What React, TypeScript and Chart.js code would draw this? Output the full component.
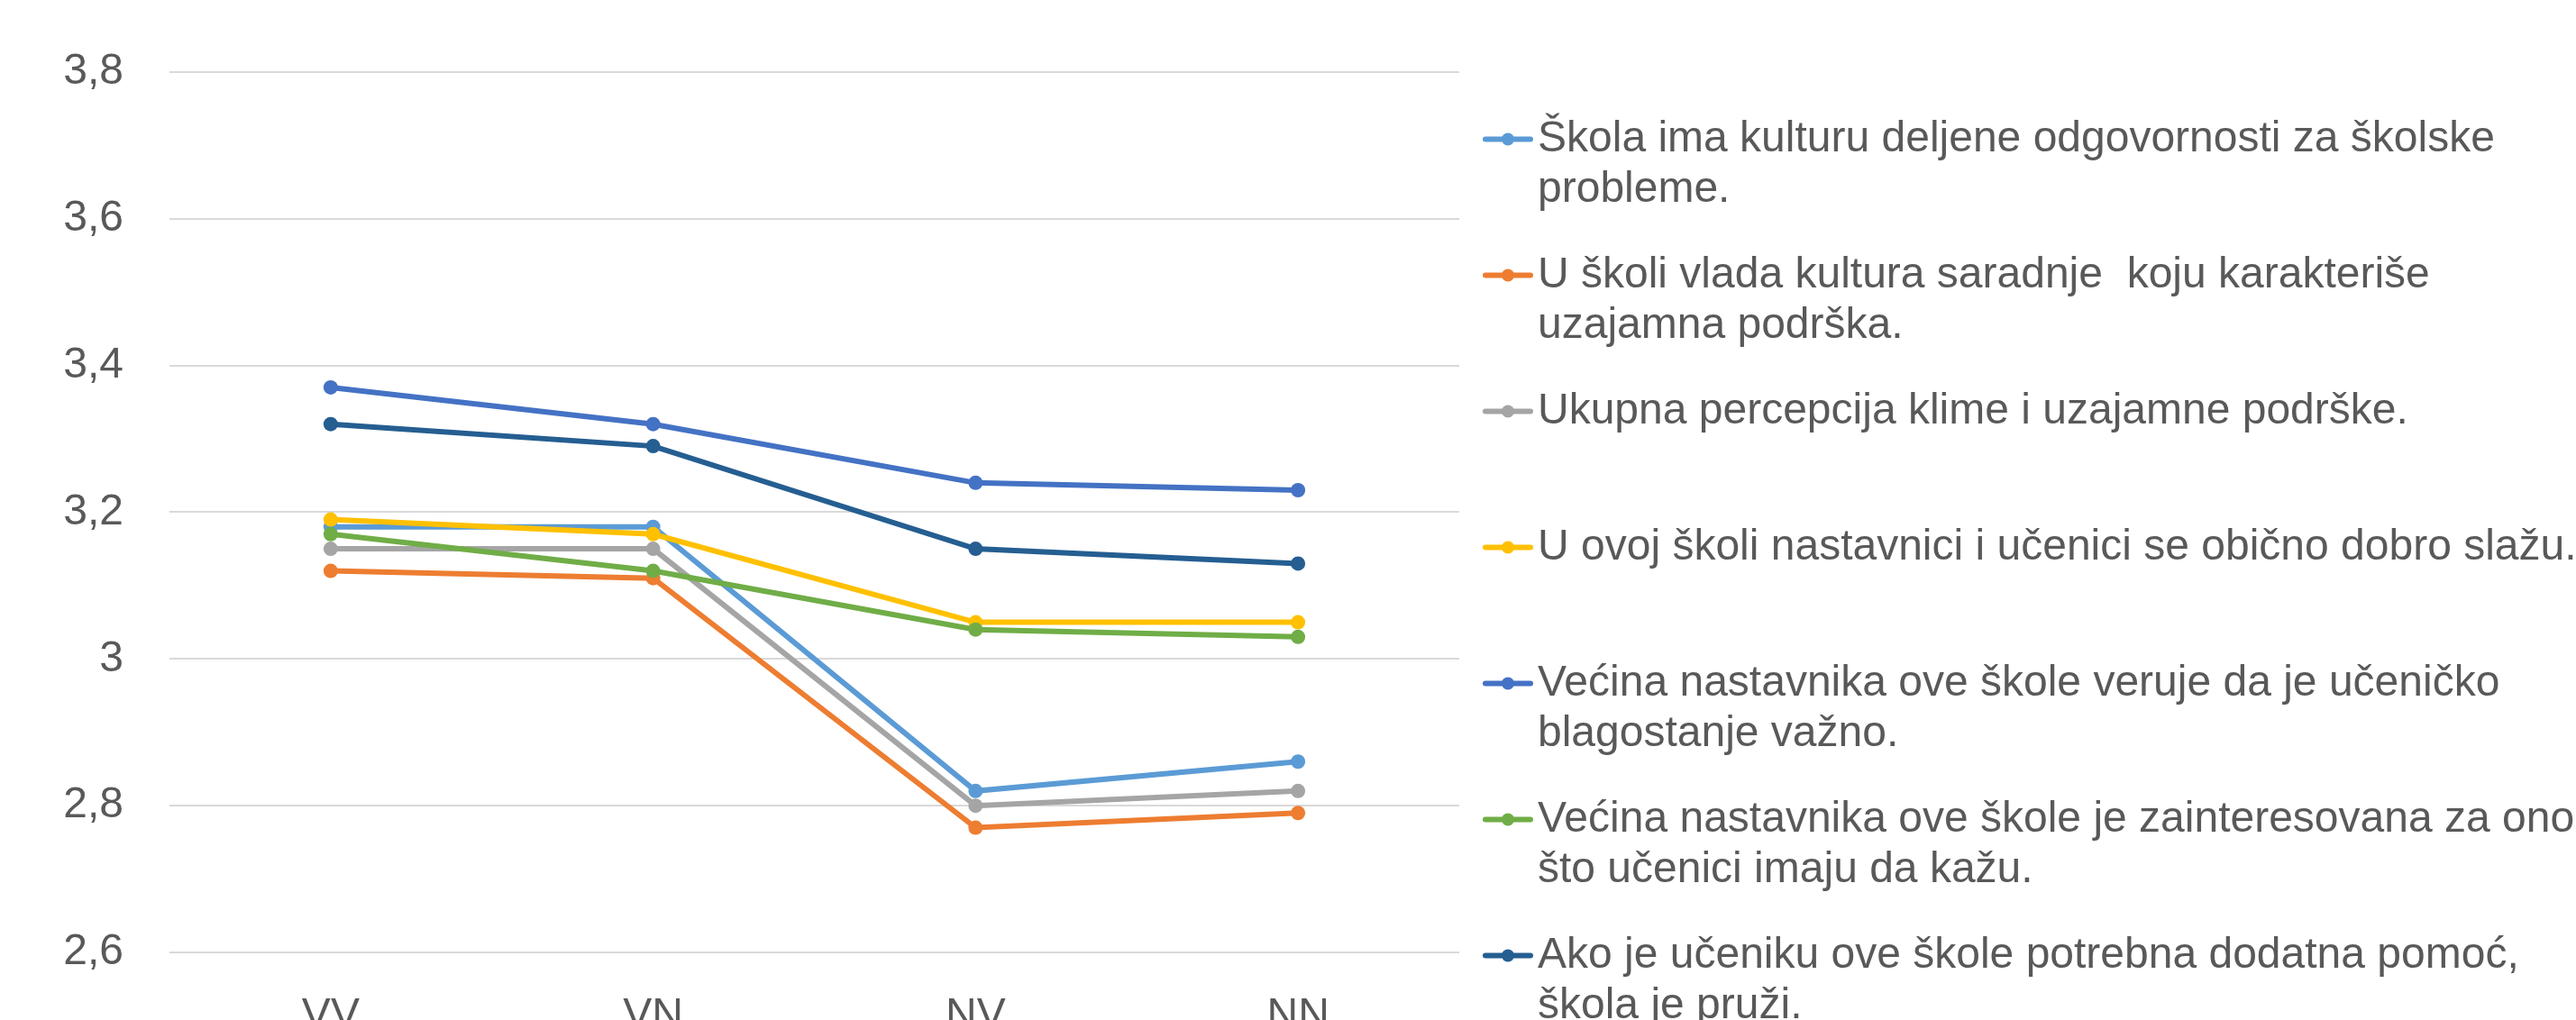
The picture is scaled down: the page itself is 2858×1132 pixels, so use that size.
import React, { useEffect, useRef } from "react";
import { Chart, registerables } from "chart.js";

Chart.register(...registerables);

// ---- data ----
const categories = ["VV", "VN", "NV", "NN"];

const seriesNames = [
  "Škola ima kulturu deljene odgovornosti za školske\nprobleme.",
  "U školi vlada kultura saradnje  koju karakteriše\nuzajamna podrška.",
  "Ukupna percepcija klime i uzajamne podrške.",
  "U ovoj školi nastavnici i učenici se obično dobro slažu.",
  "Većina nastavnika ove škole veruje da je učeničko\nblagostanje važno.",
  "Većina nastavnika ove škole je zainteresovana za ono\nšto učenici imaju da kažu.",
  "Ako je učeniku ove škole potrebna dodatna pomoć,\nškola je pruži.",
];

const seriesColors = ["#5B9BD5", "#ED7D31", "#A5A5A5", "#FFC000", "#4472C4", "#70AD47", "#255E91"];

const sharedResponsibility = [3.18, 3.18, 2.82, 2.86];
const mutualSupport = [3.12, 3.11, 2.77, 2.79];
const overallPerception = [3.15, 3.15, 2.8, 2.82];
const getAlongWell = [3.19, 3.17, 3.05, 3.05];
const wellbeingImportant = [3.37, 3.32, 3.24, 3.23];
const interestedInStudents = [3.17, 3.12, 3.04, 3.03];
const extraHelp = [3.32, 3.29, 3.15, 3.13];

const seriesValues = [
  sharedResponsibility,
  mutualSupport,
  overallPerception,
  getAlongWell,
  wellbeingImportant,
  interestedInStudents,
  extraHelp,
];

const yMin = 2.6;
const yMax = 3.8;
const yStep = 0.2;

// ---- layout / style ----
const W = 2858;
const H = 1200;
const FONT = '"Liberation Sans", Arial, sans-serif';
const TEXT_COLOR = "#595959";

const LEGEND_LINE_X0 = 1645;
const LEGEND_LINE_X1 = 1701;
const LEGEND_TEXT_X = 1706;
const LEGEND_TOP = 154.5;
const LEGEND_STEP = 151;
const LEGEND_LINE_H = 56;

const sideLegend = {
  id: "sideLegend",
  afterDraw(chart: any) {
    const ctx = chart.ctx;
    ctx.save();
    ctx.font = `48px ${FONT}`;
    ctx.textBaseline = "middle";
    ctx.textAlign = "left";
    chart.data.datasets.forEach((ds: any, i: number) => {
      const y = LEGEND_TOP + i * LEGEND_STEP;
      ctx.strokeStyle = ds.borderColor;
      ctx.lineWidth = 6;
      ctx.lineCap = "round";
      ctx.beginPath();
      ctx.moveTo(LEGEND_LINE_X0 + 3, y);
      ctx.lineTo(LEGEND_LINE_X1 - 3, y);
      ctx.stroke();
      ctx.fillStyle = ds.borderColor;
      ctx.beginPath();
      ctx.arc((LEGEND_LINE_X0 + LEGEND_LINE_X1) / 2, y, 7, 0, Math.PI * 2);
      ctx.fill();
      ctx.fillStyle = TEXT_COLOR;
      String(ds.label)
        .split("\n")
        .forEach((t: string, j: number) => ctx.fillText(t, LEGEND_TEXT_X, y + j * LEGEND_LINE_H));
    });
    ctx.restore();
  },
};

export default function App() {
  const ref = useRef<HTMLCanvasElement | null>(null);

  useEffect(() => {
    if (!ref.current) return;
    const chart = new Chart(ref.current, {
      type: "line",
      data: {
        labels: categories,
        datasets: seriesNames.map((name, i) => ({
          label: name,
          data: seriesValues[i],
          borderColor: seriesColors[i],
          backgroundColor: seriesColors[i],
          borderWidth: 6,
          pointRadius: 8,
          pointBorderWidth: 0,
          pointBackgroundColor: seriesColors[i],
          tension: 0,
          fill: false,
          order: -i,
        })),
      },
      options: {
        responsive: false,
        maintainAspectRatio: false,
        animation: false,
        devicePixelRatio: 1,
        layout: { padding: { top: 75, right: W - 1619, left: 0, bottom: 0 } },
        plugins: {
          legend: { display: false },
          tooltip: { enabled: false },
        },
        scales: {
          x: {
            type: "category",
            offset: true,
            grid: { display: false, drawTicks: false },
            border: { display: false },
            ticks: {
              font: { size: 48, family: FONT },
              color: TEXT_COLOR,
              padding: 42,
              maxRotation: 0,
              autoSkip: false,
            },
            afterFit: (s: any) => {
              s.height = H - 1057;
            },
          },
          y: {
            min: yMin,
            max: yMax,
            grid: { color: "#D9D9D9", lineWidth: 2, drawTicks: false },
            border: { display: false },
            ticks: {
              stepSize: yStep,
              font: { size: 48, family: FONT },
              color: TEXT_COLOR,
              padding: 51,
              callback: (v: any) => String(Math.round(Number(v) * 10) / 10).replace(".", ","),
            },
            afterFit: (s: any) => {
              s.width = 188;
            },
          },
        },
      },
      plugins: [sideLegend],
    });
    return () => chart.destroy();
  }, []);

  return (
    <div
      style={{
        position: "fixed",
        left: 0,
        top: 0,
        width: W,
        height: 1132,
        overflow: "hidden",
        background: "#fff",
      }}
    >
      <canvas ref={ref} width={W} height={H} style={{ display: "block", width: W, height: H }} />
    </div>
  );
}
